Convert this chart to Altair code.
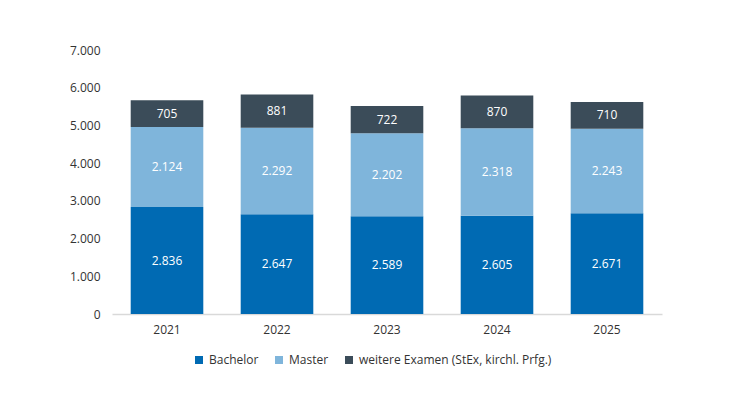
import altair as alt
import pandas as pd

years = ["2021", "2022", "2023", "2024", "2025"]
series = ["Bachelor", "Master", "weitere Examen (StEx, kirchl. Prfg.)"]
bachelor = [2836, 2647, 2589, 2605, 2671]
master = [2124, 2292, 2202, 2318, 2243]
weitere = [705, 881, 722, 870, 710]
colors = ["#006AB3", "#7FB5DB", "#3B4C59"]

rows = []
for i, y in enumerate(years):
    for k, (s, vals) in enumerate(zip(series, [bachelor, master, weitere])):
        rows.append({"year": y, "series": s, "value": vals[i], "order": k})
df = pd.DataFrame(rows)

FONT = "Open Sans"

base = alt.Chart(df).transform_stack(
    stack="value", groupby=["year"], as_=["y0", "y1"],
    sort=[alt.SortField("order", order="ascending")]
).transform_calculate(
    mid="(datum.y0 + datum.y1) / 2",
    label="replace(format(datum.value, ','), ',', '.')"
)

x_axis = alt.Axis(labelAngle=0, ticks=False, domainColor="#d9d9d9",
                  domainWidth=1.5, labelPadding=10, labelFontSize=12,
                  labelColor="#333333", labelFont=FONT)
x_scale = alt.Scale(paddingInner=0.34, paddingOuter=0.17)
y_axis = alt.Axis(values=[0, 1000, 2000, 3000, 4000, 5000, 6000, 7000],
                  grid=False, ticks=False, domain=False, labelOverlap=False,
                  labelPadding=12, labelFontSize=12,
                  labelColor="#333333", labelFont=FONT,
                  labelExpr="replace(format(datum.value, ','), ',', '.')")
y_scale = alt.Scale(domain=[0, 7000])

bars = base.mark_bar().encode(
    x=alt.X("year:N", title=None, scale=x_scale, axis=x_axis),
    y=alt.Y("y0:Q", title=None, scale=y_scale, axis=y_axis),
    y2="y1:Q",
    color=alt.Color("series:N", scale=alt.Scale(domain=series, range=colors),
                    legend=alt.Legend(title=None, orient="none", direction="horizontal",
                                      legendX=81, legendY=304,
                                      symbolType="square", symbolSize=64,
                                      labelFontSize=12, labelFont=FONT,
                                      labelColor="#333333", columnPadding=14,
                                      labelLimit=0, symbolStrokeWidth=0)),
)

text = base.mark_text(color="white", fontSize=12, font=FONT).encode(
    x=alt.X("year:N", title=None, scale=x_scale, axis=x_axis),
    y=alt.Y("mid:Q", title=None, scale=y_scale, axis=y_axis),
    text="label:N",
)

chart = (bars + text).properties(
    width=550, height=264,
    autosize=alt.AutoSizeParams(type="none"),
    padding={"left": 104, "top": 42, "right": 60, "bottom": 80},
    background="white",
).configure_view(strokeWidth=0, stroke=None)

chart.save("out.html", embed_options={"renderer": "svg", "actions": False})
